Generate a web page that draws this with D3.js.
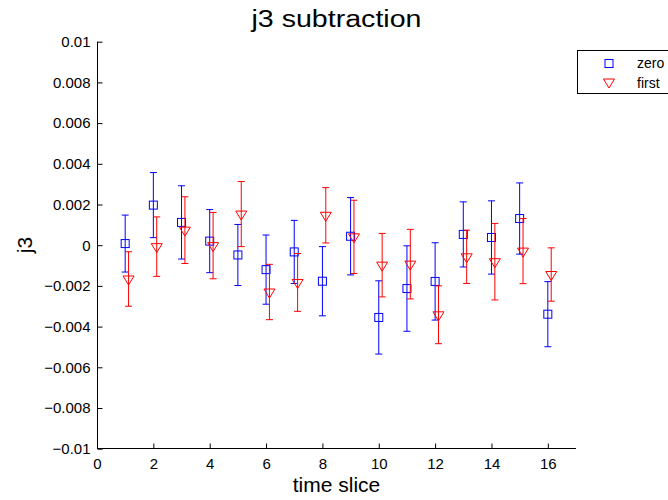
<!DOCTYPE html>
<html><head><meta charset="utf-8">
<script src="https://cdn.jsdelivr.net/npm/d3@7"></script>
<style>body{margin:0;background:#fff}svg{display:block;font-family:"Liberation Sans",Arial,Helvetica,sans-serif}</style>
</head><body><svg id="c" width="668" height="500"></svg>
<script>
const slices = [1,2,3,4,5,6,7,8,9,10,11,12,13,14,15,16];
const zeroVals = [0.00008,0.00197,0.00112,0.0002,-0.00048,-0.0012,-0.00033,-0.00177,0.00044,-0.00355,-0.00213,-0.00178,0.00053,0.00038,0.00131,-0.00339];
const zeroErr  = [0.0014,0.0016,0.0018,0.00155,0.0015,0.0017,0.00155,0.0017,0.0019,0.0018,0.0021,0.0019,0.0016,0.0018,0.00175,0.0016];
const firstVals = [-0.00166,-0.00007,0.00074,-0.00002,0.00153,-0.0023,-0.00183,0.00147,0.00041,-0.00098,-0.00093,-0.00342,-0.00057,-0.00081,-0.00029,-0.00144];
const firstErr  = [0.00134,0.00146,0.00164,0.00163,0.0016,0.00136,0.00142,0.00136,0.0018,0.00156,0.00171,0.00142,0.00131,0.00188,0.0016,0.00131];
const firstOffset = 0.12;
const xTicks = [0,2,4,6,8,10,12,14,16];
const yTicks = [-0.01,-0.008,-0.006,-0.004,-0.002,0,0.002,0.004,0.006,0.008,0.01];
const legendLabels = ["zero","first"];

const svg = d3.select("#c");
const x = d3.scaleLinear().domain([0,17]).range([97,576]);
const y = d3.scaleLinear().domain([-0.01,0.01]).range([448.7,41.7]);
const fmt = v => v===0 ? "0" : (v<0 ? "\u2212" : "") + String(Math.abs(+v.toFixed(3)));

// axes
const xAxis = d3.axisBottom(x).tickValues(xTicks).tickSize(-5).tickPadding(10).tickFormat(d=>d);
const gx = svg.append("g").attr("transform","translate(0,448.5)").call(xAxis);
gx.select(".domain").attr("d","M97,0H576").attr("stroke","#000");
gx.selectAll("text").attr("font-size",15).attr("fill","#000").attr("font-family","Liberation Sans, Arial, sans-serif");
gx.selectAll("line").attr("stroke","#000");

const yAxis = d3.axisLeft(y).tickValues(yTicks).tickSize(-5).tickPadding(7).tickFormat(fmt);
const gy = svg.append("g").attr("transform","translate(97.5,0)").call(yAxis);
gy.select(".domain").attr("d","M0,41.7V448.7").attr("stroke","#000");
gy.selectAll("text").attr("font-size",15).attr("fill","#000").attr("font-family","Liberation Sans, Arial, sans-serif");
gy.selectAll("line").attr("stroke","#000");

// error bars
function drawSeries(vals, errs, off, color, marker){
  const g = svg.append("g");
  const cap = 3.5;
  slices.forEach((s,i)=>{
    const cx = x(s+off), top = y(vals[i]+errs[i]), bot = y(vals[i]-errs[i]);
    g.append("line").attr("x1",cx).attr("x2",cx).attr("y1",top).attr("y2",bot).attr("stroke",color).attr("stroke-width",1);
    g.append("line").attr("x1",cx-cap).attr("x2",cx+cap).attr("y1",top).attr("y2",top).attr("stroke",color);
    g.append("line").attr("x1",cx-cap).attr("x2",cx+cap).attr("y1",bot).attr("y2",bot).attr("stroke",color);
    const cy = y(vals[i]);
    marker(g, cx, cy, color);
  });
}
const square = (g,cx,cy,c)=> g.append("rect").attr("x",cx-4).attr("y",cy-4).attr("width",8).attr("height",8).attr("fill","none").attr("stroke",c);
const tri = (g,cx,cy,c)=> g.append("path").attr("d",`M${cx-5.5},${cy-3}L${cx+5.5},${cy-3}L${cx},${cy+6}Z`).attr("fill","none").attr("stroke",c);

drawSeries(zeroVals, zeroErr, 0, "#0000ff", square);
drawSeries(firstVals, firstErr, firstOffset, "#ff0000", tri);

// title and labels
svg.append("text").attr("x",336.5).attr("y",27).attr("text-anchor","middle").attr("font-size",23).attr("textLength",170).attr("lengthAdjust","spacingAndGlyphs").text("j3 subtraction");
svg.append("text").attr("x",336.5).attr("y",492).attr("text-anchor","middle").attr("font-size",21).text("time slice");
svg.append("text").attr("transform","translate(32,245) rotate(-90)").attr("text-anchor","middle").attr("font-size",21).text("j3");

// legend
const lg = svg.append("g");
lg.append("rect").attr("x",577.5).attr("y",50.5).attr("width",120).attr("height",43).attr("fill","#fff").attr("stroke","#000");
square(lg, 609, 63.5, "#0000ff");
tri(lg, 609, 82, "#ff0000");
lg.selectAll(null).data(legendLabels).enter().append("text").attr("x",637).attr("y",(d,i)=>68+i*20).attr("font-size",14).text(d=>d);
</script></body></html>
